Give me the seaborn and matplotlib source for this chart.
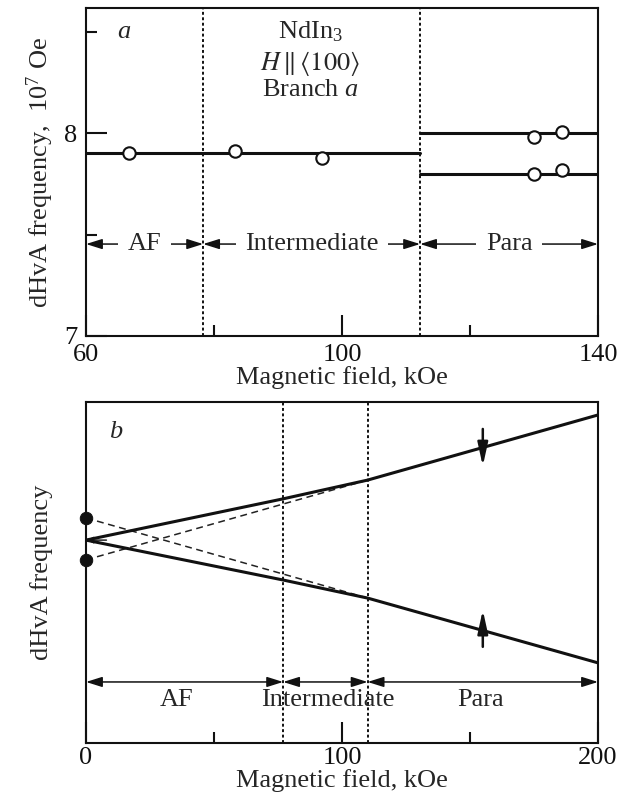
import numpy as np
import pandas as pd
import seaborn as sns
import matplotlib
matplotlib.use("Agg")
import matplotlib.pyplot as plt
from matplotlib.patches import ArrowStyle

sns.set_theme(style="ticks")
plt.rcParams['font.family'] = ['Liberation Serif', 'DejaVu Serif']
plt.rcParams['mathtext.fontset'] = 'custom'
plt.rcParams['mathtext.rm'] = 'Liberation Serif'
plt.rcParams['mathtext.it'] = 'Liberation Serif:italic'
plt.rcParams['mathtext.fallback'] = 'stix'

# ---------------- panel a data ----------------
a_boundaries = [78.3, 112.2]
a_low_field = [60, 112.2]
a_low_freq = [7.90, 7.90]
a_para_field = [112.2, 140]
a_para_upper = [8.00, 8.00]
a_para_lower = [7.80, 7.80]
a_pts_field = [66.7, 83.3, 96.9, 130.0, 134.4, 130.0, 134.4]
a_pts_freq = [7.90, 7.91, 7.877, 7.98, 8.005, 7.80, 7.82]
a_region_labels = ["AF", "Intermediate", "Para"]
a_region_y = 7.453

# ---------------- panel b data ----------------
b_boundaries = [77, 110]
b_field = [0, 77, 110, 200]
b_upper = [5.95, 7.16, 7.71, 9.62]
b_lower = [5.95, 4.78, 4.25, 2.35]
b_dash_field = [0, 110]
b_dash1 = [6.60, 4.25]
b_dash2 = [5.37, 7.71]
b_dots_field = [0, 0]
b_dots_freq = [6.60, 5.37]
b_region_labels = ["AF", "Intermediate", "Para"]
b_region_y = 1.79
b_text_y = 1.26
b_text_x = [35.5, 94.5, 154]
spin_x = 155
spin_down = (9.21, 8.12)
spin_up = (2.82, 3.90)

FS = 19
fig = plt.figure(figsize=(6.28, 7.98), dpi=100)
axa = fig.add_axes([86/628, 1-336/798, 512/628, 328/798])
axb = fig.add_axes([86/628, 1-743/798, 512/628, 341/798])

for ax in (axa, axb):
    for s in ax.spines.values():
        s.set_linewidth(1.5)
        s.set_color('#111111')
    ax.tick_params(which='both', direction='in', width=1.5, colors='#111111',
                   labelsize=FS, pad=6)
    ax.tick_params(which='major', length=15)
    ax.tick_params(which='minor', length=8)
axb.tick_params(axis='x', which='both', pad=3)

# ---- panel a ----
for xb in a_boundaries:
    axa.axvline(xb, color='#111111', lw=1.4, linestyle=(0, (1.5, 1.3)))
sns.lineplot(x=a_low_field, y=a_low_freq, ax=axa, color='#111111', lw=2.2)
sns.lineplot(x=a_para_field, y=a_para_upper, ax=axa, color='#111111', lw=2.2)
sns.lineplot(x=a_para_field, y=a_para_lower, ax=axa, color='#111111', lw=2.2)
sns.scatterplot(x=a_pts_field, y=a_pts_freq, ax=axa, s=80, facecolor='white',
                edgecolor='#111111', linewidth=1.5, zorder=5)
axa.set_xlim(60, 140)
axa.set_ylim(7, 8.616)
axa.set_xticks([60, 100, 140])
axa.set_xticks([80, 120], minor=True)
axa.set_yticks([7, 8])
axa.set_yticks([7.5, 8.5], minor=True)
axa.set_xlabel("Magnetic field, kOe", fontsize=FS, labelpad=0)
axa.set_ylabel("dHvA frequency,  10$^{7}$ Oe", fontsize=FS, labelpad=6)

edges_a = [60] + a_boundaries + [140]
astyle = ArrowStyle('<|-|>', head_length=0.7, head_width=0.22)
for i, lab in enumerate(a_region_labels):
    x0, x1 = edges_a[i], edges_a[i+1]
    axa.annotate('', xy=(x1, a_region_y), xytext=(x0, a_region_y),
                 arrowprops=dict(arrowstyle=astyle, color='#111111', lw=1.1,
                                 shrinkA=0, shrinkB=0, mutation_scale=14))
    axa.text((x0+x1)/2, a_region_y, lab, fontsize=FS, ha='center', va='center',
             bbox=dict(boxstyle='square,pad=0.35', fc='white', ec='none'), zorder=6)

axa.text(64.8, 8.50, "a", fontsize=FS, style='italic', ha='left', va='center')
axa.text(95, 8.50, "NdIn$_3$", fontsize=FS, ha='center', va='center')
axa.text(95, 8.345, r"$H\,\|\,\langle 100\rangle$", fontsize=FS, ha='center',
         va='center', math_fontfamily='stix')
axa.text(95, 8.21, "Branch $a$", fontsize=FS, ha='center', va='center')

# ---- panel b ----
for xb in b_boundaries:
    axb.axvline(xb, color='#111111', lw=1.4, linestyle=(0, (1.5, 1.3)))
sns.lineplot(x=b_dash_field, y=b_dash1, ax=axb, color='#222222', lw=1.1,
             linestyle=(0, (4.5, 3)))
sns.lineplot(x=b_dash_field, y=b_dash2, ax=axb, color='#222222', lw=1.1,
             linestyle=(0, (4.5, 3)))
sns.lineplot(x=b_field, y=b_upper, ax=axb, color='#111111', lw=2.2, sort=False)
sns.lineplot(x=b_field, y=b_lower, ax=axb, color='#111111', lw=2.2, sort=False)
sns.scatterplot(x=b_dots_field, y=b_dots_freq, ax=axb, s=80, color='#111111',
                edgecolor='#111111', zorder=5, clip_on=False)
axb.annotate('', xy=(0.3, b_upper[0]), xytext=(8, b_upper[0]),
             arrowprops=dict(arrowstyle='->', color='#111111', lw=1.0,
                             shrinkA=0, shrinkB=0, mutation_scale=10))
axb.set_xlim(0, 200)
axb.set_ylim(0, 10)
axb.set_xticks([0, 100, 200])
axb.set_xticks([50, 150], minor=True)
axb.set_yticks([])
axb.set_xlabel("Magnetic field, kOe", fontsize=FS, labelpad=0)
axb.set_ylabel("dHvA frequency", fontsize=FS, labelpad=24)

edges_b = [0] + b_boundaries + [200]
for i, lab in enumerate(b_region_labels):
    x0, x1 = edges_b[i], edges_b[i+1]
    axb.annotate('', xy=(x1, b_region_y), xytext=(x0, b_region_y),
                 arrowprops=dict(arrowstyle=astyle, color='#111111', lw=1.1,
                                 shrinkA=0, shrinkB=0, mutation_scale=14))
    axb.text(b_text_x[i], b_text_y, lab, fontsize=FS, ha='center', va='center')

sstyle = ArrowStyle('-|>', head_length=1.0, head_width=0.22)
axb.annotate('', xy=(spin_x, spin_down[1]), xytext=(spin_x, spin_down[0]),
             arrowprops=dict(arrowstyle=sstyle, color='#111111', lw=1.8,
                             shrinkA=0, shrinkB=0, mutation_scale=14))
axb.annotate('', xy=(spin_x, spin_up[1]), xytext=(spin_x, spin_up[0]),
             arrowprops=dict(arrowstyle=sstyle, color='#111111', lw=1.8,
                             shrinkA=0, shrinkB=0, mutation_scale=14))
axb.text(11.7, 9.12, "b", fontsize=FS, style='italic', ha='center', va='center')

fig.savefig("out.png", dpi=100)
